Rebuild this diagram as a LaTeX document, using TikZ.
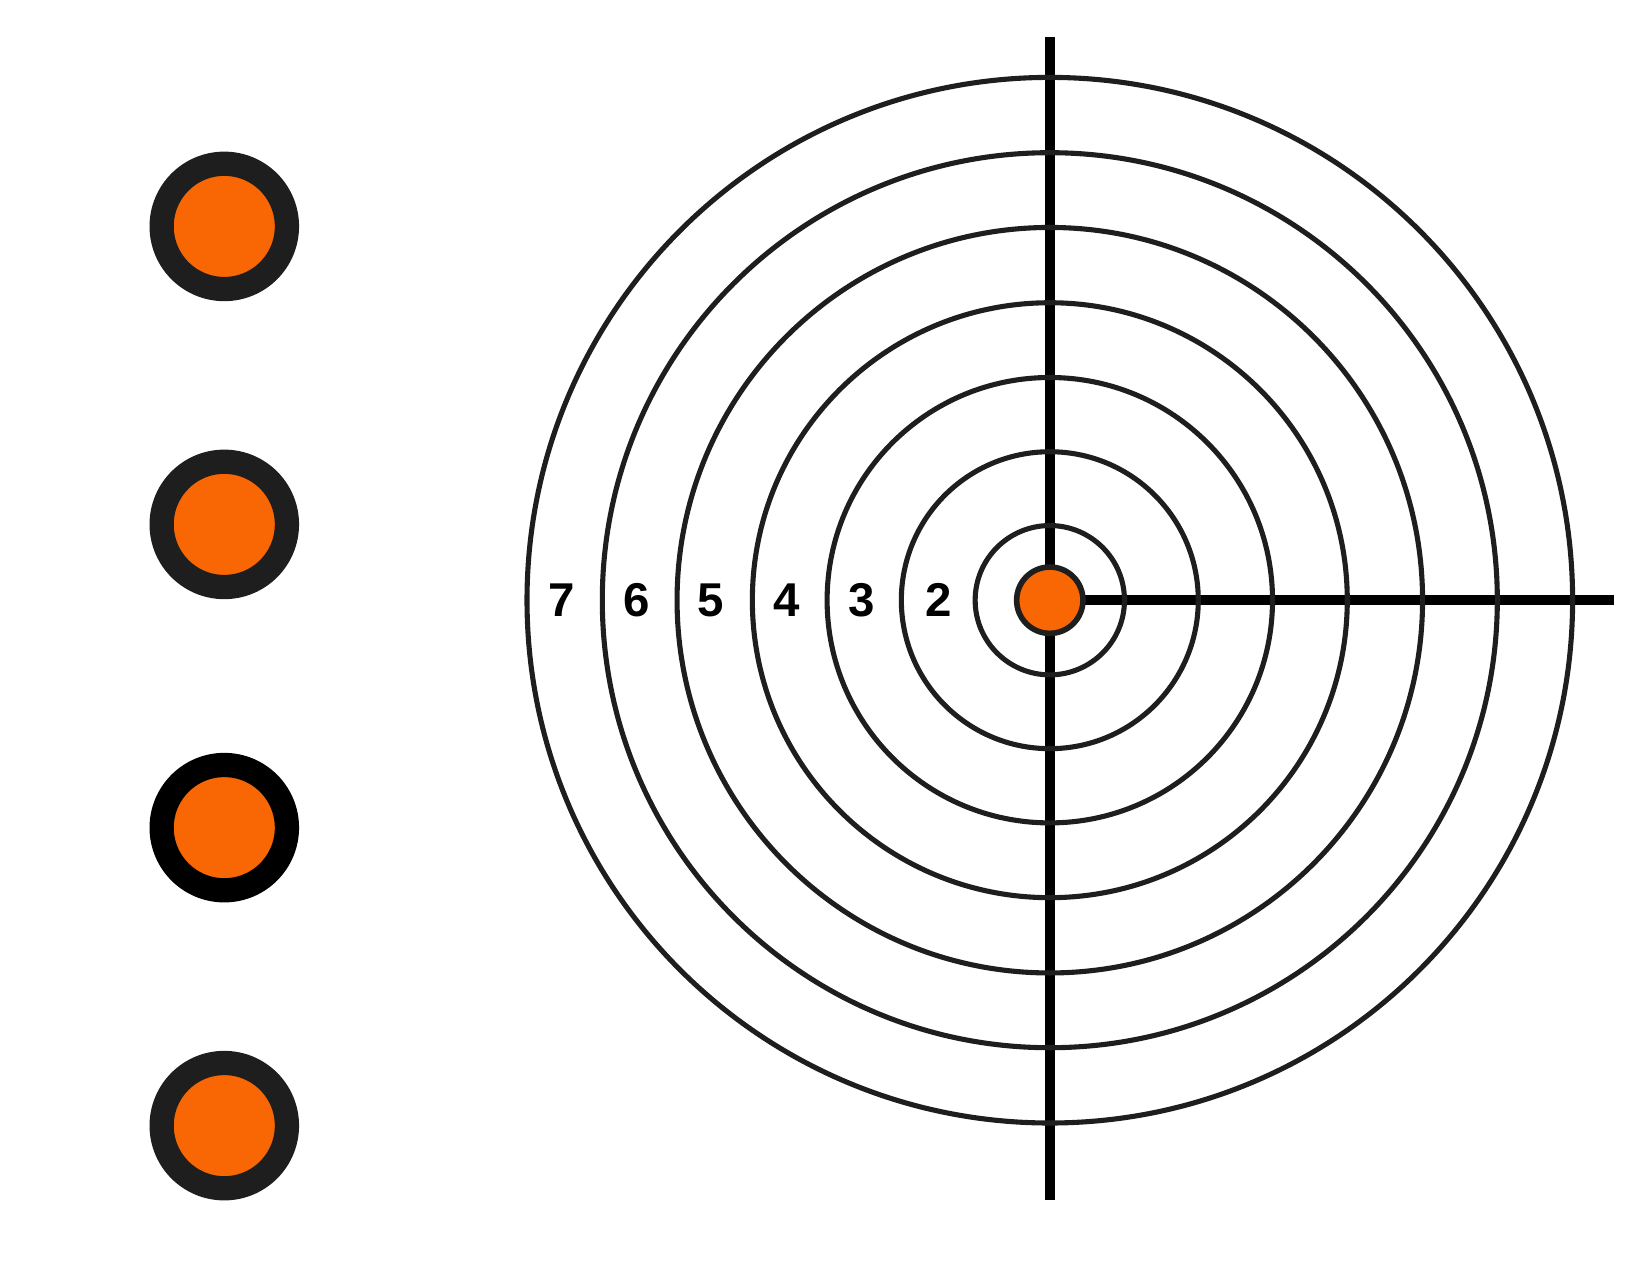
\documentclass[tikz,border=0pt]{standalone}
\usepackage{fontspec}
\setmainfont{Liberation Sans}
\definecolor{dotorange}{RGB}{249,102,4}
\definecolor{ringgray}{RGB}{30,30,30}

\begin{document}
\begin{tikzpicture}[%
      x=0.1053mm, y=-0.1053mm,
      ring/.style={color=ringgray, line width=1.45pt},
      score/.style={font=\bfseries\fontsize{13.5}{13.5}\selectfont, inner sep=0pt},
      ]
      \useasboundingbox (0,0) rectangle (1567,1211);

      \coordinate (c) at (997,570);
      \coordinate (top) at (997,35);
      \coordinate (bottom) at (997,1140);
      \coordinate (right) at (1533,570);

      \draw [color=black, line width=2.7pt] (top) -- (bottom);
      \draw [color=black, line width=2.7pt] (c) -- (right);

      \draw [ring] (c) circle (70.9);
      \draw [ring] (c) circle (141.0);
      \draw [ring] (c) circle (211.5);
      \draw [ring] (c) circle (282.5);
      \draw [ring] (c) circle (354.0);
      \draw [ring] (c) circle (425.0);
      \draw [ring] (c) circle (496.5);

      \filldraw [fill=dotorange, draw=ringgray, line width=1.6pt] (c) circle (31.5);

      \node [score] (s2) at (891,570) {2};
      \node [score] (s3) at (818,570) {3};
      \node [score] (s4) at (747,570) {4};
      \node [score] (s5) at (675,570) {5};
      \node [score] (s6) at (605,570) {6};
      \node [score] (s7) at (533,570) {7};

      \filldraw [fill=dotorange, draw=ringgray, line width=6.9pt] (213,215) circle (59.5);
      \filldraw [fill=dotorange, draw=ringgray, line width=6.9pt] (213,498) circle (59.5);
      \filldraw [fill=dotorange, draw=black, line width=6.9pt] (213,786) circle (59.5);
      \filldraw [fill=dotorange, draw=ringgray, line width=6.9pt] (213,1069) circle (59.5);
\end{tikzpicture}
\end{document}
